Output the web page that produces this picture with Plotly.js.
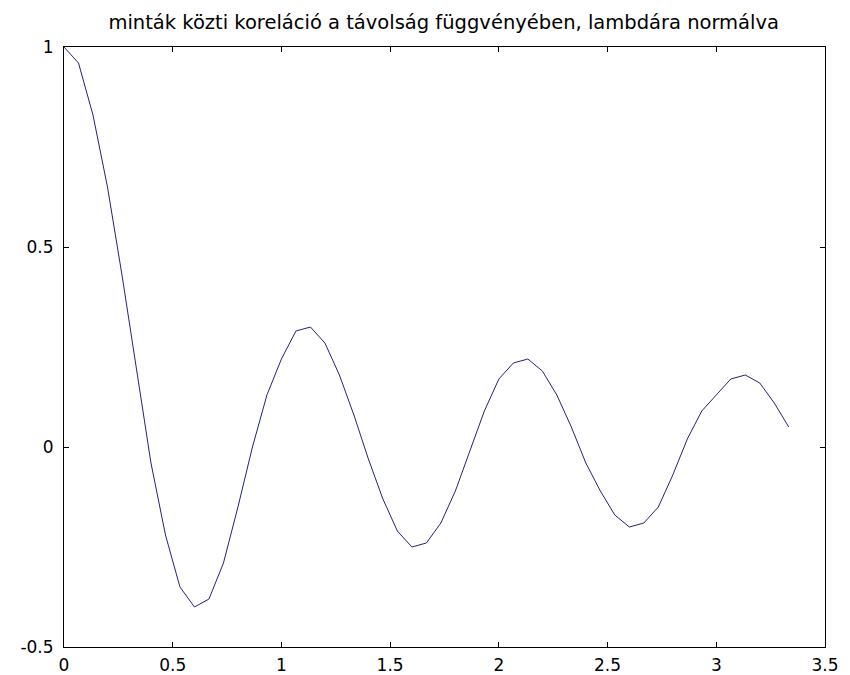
<!DOCTYPE html>
<html>
<head>
<meta charset="utf-8">
<script src="https://cdn.plot.ly/plotly-3.0.1.min.js"></script>
<style>html,body{margin:0;padding:0;background:#fff;}#chart{width:850px;height:675px;}</style>
</head>
<body>
<div id="chart"></div>
<script>
const titleText = "minták közti koreláció a távolság függvényében, lambdára normálva";
const distance = [0, 0.0667, 0.1333, 0.2, 0.2667, 0.3333, 0.4, 0.4667, 0.5333, 0.6,
  0.6667, 0.7333, 0.8, 0.8667, 0.9333, 1.0, 1.0667, 1.1333, 1.2, 1.2667,
  1.3333, 1.4, 1.4667, 1.5333, 1.6, 1.6667, 1.7333, 1.8, 1.8667, 1.9333,
  2.0, 2.0667, 2.1333, 2.2, 2.2667, 2.3333, 2.4, 2.4667, 2.5333, 2.6,
  2.6667, 2.7333, 2.8, 2.8667, 2.9333, 3.0, 3.0667, 3.1333, 3.2, 3.2667, 3.3333];
const correlation = [1.00, 0.96, 0.83, 0.65, 0.43, 0.19, -0.04, -0.22, -0.35, -0.40,
  -0.38, -0.29, -0.15, 0.00, 0.13, 0.22, 0.29, 0.30, 0.26, 0.18,
  0.08, -0.03, -0.13, -0.21, -0.25, -0.24, -0.19, -0.11, -0.01, 0.09,
  0.17, 0.21, 0.22, 0.19, 0.13, 0.05, -0.04, -0.11, -0.17, -0.20,
  -0.19, -0.15, -0.07, 0.02, 0.09, 0.13, 0.17, 0.18, 0.16, 0.11, 0.05];
const xTickVals = [0, 0.5, 1, 1.5, 2, 2.5, 3, 3.5];
const xTickText = ["0", "0.5", "1", "1.5", "2", "2.5", "3", "3.5"];
const yTickVals = [-0.5, 0, 0.5, 1];
const yTickText = ["-0.5", "0", "0.5", "1"];

const font = {family: "DejaVu Sans, sans-serif", size: 17, color: "#000"};
Plotly.newPlot("chart", [{
  x: distance, y: correlation, type: "scatter", mode: "lines",
  line: {color: "#22227e", width: 1}, hoverinfo: "none"
}], {
  width: 850, height: 675,
  margin: {l: 64, r: 25, t: 47, b: 28},
  paper_bgcolor: "#fff", plot_bgcolor: "#fff",
  showlegend: false,
  font: font,
  title: {text: titleText, x: 0.522, xanchor: "center", y: 0.967, yanchor: "middle",
          font: {family: "DejaVu Sans, sans-serif", size: 19.5, color: "#000"}},
  xaxis: {range: [0, 3.5], tickvals: xTickVals, ticktext: xTickText, ticks: "inside",
          ticklen: 5, tickcolor: "#000", showline: true, linecolor: "#000", linewidth: 1,
          mirror: "ticks", showgrid: false, zeroline: false, fixedrange: true,
          ticklabelstandoff: 3},
  yaxis: {range: [-0.5, 1], tickvals: yTickVals, ticktext: yTickText, ticks: "inside",
          ticklen: 5, tickcolor: "#000", showline: true, linecolor: "#000", linewidth: 1,
          mirror: "ticks", showgrid: false, zeroline: false, fixedrange: true,
          ticklabelstandoff: 6}
}, {staticPlot: true});
</script>
</body>
</html>
